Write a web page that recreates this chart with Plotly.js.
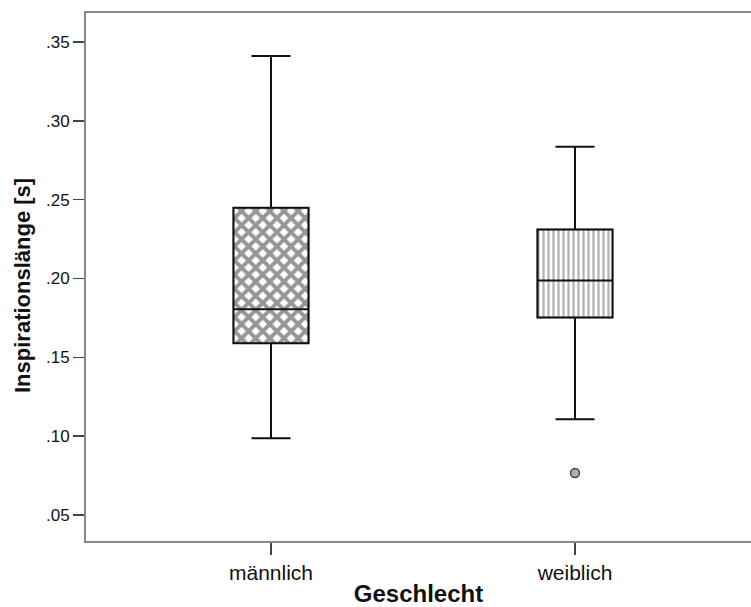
<!DOCTYPE html>
<html>
<head>
<meta charset="utf-8">
<script src="https://cdn.plot.ly/plotly-3.0.1.min.js"></script>
<style>html,body{margin:0;padding:0;background:#fff;overflow:hidden}</style>
</head>
<body>
<div id="chart" style="width:751px;height:607px"></div>
<script>
const categories = ['männlich', 'weiblich'];
const q1 = [0.1589, 0.1753];
const median = [0.1805, 0.1987];
const q3 = [0.2449, 0.2310];
const lowerWhisker = [0.0987, 0.1108];
const upperWhisker = [0.3411, 0.2835];
const outlierCategory = ['weiblich'];
const outlierValue = [0.0766];
const tickValues = [0.05, 0.10, 0.15, 0.20, 0.25, 0.30, 0.35];
const tickLabels = ['.05', '.10', '.15', '.20', '.25', '.30', '.35'];
const xTitle = 'Geschlecht';
const yTitle = 'Inspirationslänge [s]';

const boxWidth = 0.247;
const fontFam = '"Liberation Sans", Arial, sans-serif';

const boxesFill = {
  type: 'bar',
  x: categories,
  base: q1,
  y: q3.map((v, i) => v - q1[i]),
  width: boxWidth,
  marker: {
    color: '#ffffff',
    line: {color: '#666', width: 1.5},
    pattern: {
      shape: ['x', '|'],
      fgcolor: ['#2e2e2e', '#666666'],
      bgcolor: '#ffffff',
      size: [10, 5],
      solidity: [0.62, 0.45],
      fillmode: 'overlay'
    }
  },
  hoverinfo: 'skip',
  showlegend: false
};

const boxes = {
  type: 'box',
  x: categories,
  q1: q1,
  median: median,
  q3: q3,
  lowerfence: lowerWhisker,
  upperfence: upperWhisker,
  width: boxWidth,
  whiskerwidth: 0.52,
  boxpoints: false,
  fillcolor: 'rgba(0,0,0,0)',
  line: {color: '#111', width: 2},
  showlegend: false
};

const outliers = {
  type: 'scatter',
  mode: 'markers',
  x: outlierCategory,
  y: outlierValue,
  marker: {symbol: 'circle', size: 9, color: '#b0b0b0', line: {color: '#444', width: 1.5}},
  showlegend: false
};

const layout = {
  width: 751,
  height: 607,
  margin: {l: 86, r: 0, t: 13, b: 66},
  paper_bgcolor: '#fff',
  plot_bgcolor: '#fff',
  font: {family: fontFam, color: '#111'},
  xaxis: {
    type: 'category',
    range: [-0.6086, 1.579],
    showline: true,
    linecolor: '#888',
    linewidth: 2,
    mirror: true,
    ticks: 'outside',
    ticklen: 12,
    tickwidth: 1.5,
    tickcolor: '#444',
    showgrid: false,
    zeroline: false,
    automargin: false,
    tickfont: {size: 21, family: fontFam, color: '#111'},
    title: {text: '<b>' + xTitle + '</b>', font: {size: 24, family: fontFam, color: '#111'}, standoff: 13}
  },
  yaxis: {
    range: [0.0335, 0.3684],
    tickvals: tickValues,
    ticktext: tickLabels,
    showline: true,
    linecolor: '#888',
    linewidth: 2,
    ticks: 'outside',
    ticklen: 11,
    tickwidth: 1.5,
    tickcolor: '#444',
    showgrid: false,
    zeroline: false,
    automargin: false,
    tickfont: {size: 17, family: fontFam, color: '#111'}
  },
  annotations: [{
    text: '<b>' + yTitle + '</b>',
    xref: 'paper', yref: 'paper',
    x: -0.0947, y: 0.483,
    xanchor: 'center', yanchor: 'middle',
    textangle: -90,
    showarrow: false,
    font: {size: 22, family: fontFam, color: '#111'}
  }]
};

Plotly.newPlot('chart', [boxesFill, boxes, outliers], layout, {staticPlot: true, displayModeBar: false});
</script>
</body>
</html>
